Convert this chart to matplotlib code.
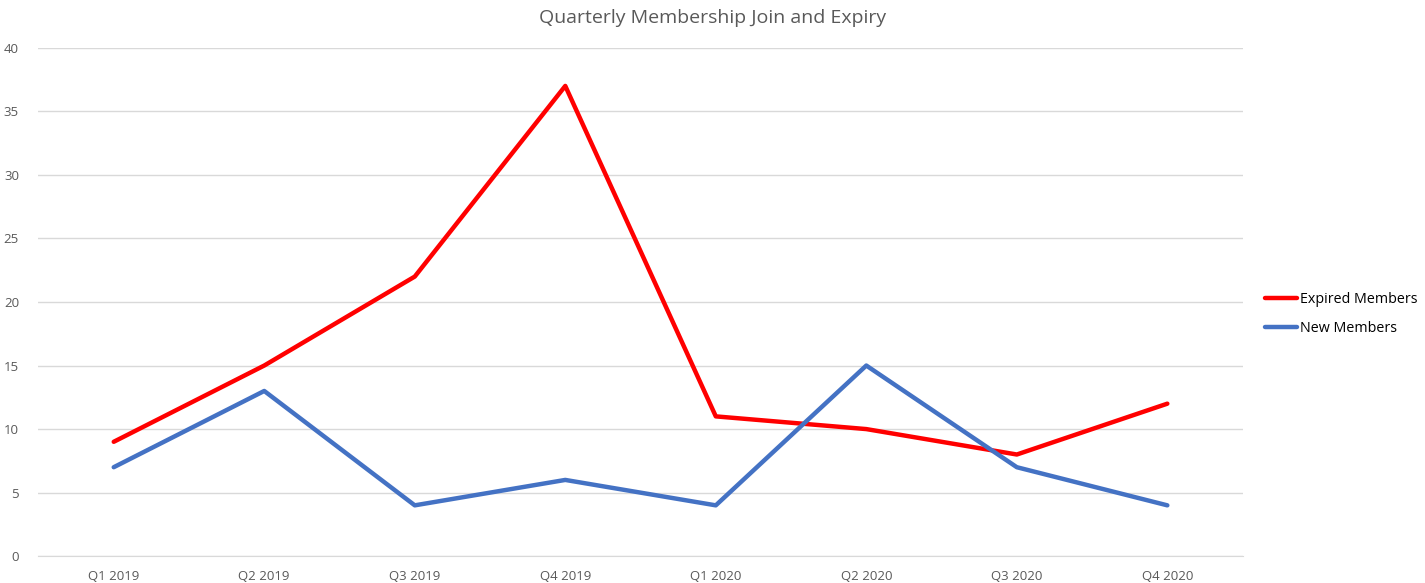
import matplotlib.pyplot as plt

quarters = ['Q1 2019', 'Q2 2019', 'Q3 2019', 'Q4 2019',
            'Q1 2020', 'Q2 2020', 'Q3 2020', 'Q4 2020']
expired = [9, 15, 22, 37, 11, 10, 8, 12]
new = [7, 13, 4, 6, 4, 15, 7, 4]

plt.rcParams['font.family'] = ['Open Sans', 'DejaVu Sans']

fig = plt.figure(figsize=(14.25, 5.83), dpi=100)
ax = fig.add_axes([0.027, 0.046, 0.845, 0.872])

x = range(len(quarters))
ax.plot(x, expired, color='#ff0000', lw=3.2, label='Expired Members', solid_capstyle='round')
ax.plot(x, new, color='#4472c4', lw=3.2, label='New Members', solid_capstyle='round')

ax.set_xlim(-0.5, len(quarters) - 0.5)
ax.set_ylim(0, 40)
ax.set_yticks(range(0, 41, 5))
ax.set_xticks(list(x))
ax.set_xticklabels(quarters)
ax.grid(axis='y', color='#d9d9d9', lw=1)
ax.set_axisbelow(True)
for s in ['top', 'right', 'left']:
    ax.spines[s].set_visible(False)
ax.spines['bottom'].set_color('#d9d9d9')
ax.tick_params(length=0, labelsize=9.5, colors='#595959', pad=10)
ax.tick_params(axis='y', pad=14)

fig.suptitle('Quarterly Membership Join and Expiry', y=0.985, fontsize=14, color='#595959')

ax.legend(loc='center left', bbox_to_anchor=(1.0, 0.477), frameon=False,
          fontsize=10.3, handlelength=2.2, handletextpad=0.2, labelspacing=1.0,
          borderaxespad=1.2)

plt.savefig('out.png', dpi=100)
plt.close()
